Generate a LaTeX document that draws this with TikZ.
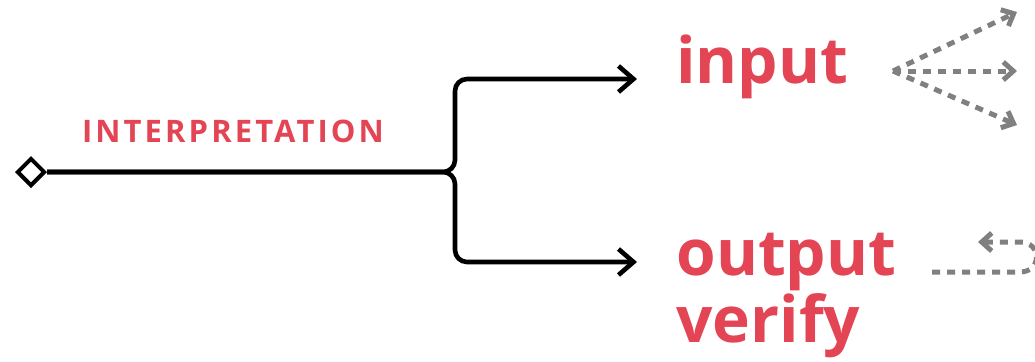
\documentclass[tikz,border=0pt]{standalone}
\usepackage{fontspec}
\setmainfont{Open Sans}
\newfontfamily\spacedfont{Open Sans}[LetterSpace=10]
\usetikzlibrary{shapes.geometric,arrows.meta}
\definecolor{labelred}{RGB}{227,69,85}
\definecolor{flowgray}{RGB}{128,128,128}

\tikzset{
  branch/.style={line width=2.3pt, rounded corners=6pt, -{Straight Barb[length=7.5pt,width=13pt]}},
  flow/.style={flowgray, line width=2.5pt, dash pattern=on 4pt off 3.5pt, -{Straight Barb[length=5pt,width=9pt]}},
  word/.style={labelred, font=\fontsize{32}{34}\selectfont\bfseries, inner sep=0pt, anchor=base west},
}

\begin{document}
\begin{tikzpicture}[x=0.5pt,y=-0.5pt]
    \clip (0,0) rectangle (1035,361);
    \node (start) [diamond, draw, line width=2pt, fill=white, inner sep=0pt, minimum size=14pt] at (31,172) {};
    \coordinate (fork) at (455,172);
    \coordinate (inTip) at (637,79);
    \coordinate (outTip) at (637,262);
    \node (interp) [labelred, font=\spacedfont\fontsize{15.5}{17}\selectfont\bfseries, anchor=base, inner sep=0pt] at (233,142) {INTERPRETATION};
    \node (input) [word] at (676,83) {input};
    \node (output) [word] at (676,275) {output};
    \node (verify) [word] at (676,342) {verify};
    \draw[branch] (start) -- (fork) |- (inTip);
    \draw[branch] (start) -- (fork) |- (outTip);
    % fan out of input
    \coordinate (fan) at (893,71);
    \coordinate (upTip) at (1017,12);
    \coordinate (midTip) at (1017,71);
    \coordinate (lowTip) at (1017,125);
    \foreach \t in {upTip,midTip,lowTip}
        \draw[flow] (fan) -- (\t);
    % loop back to output
    \coordinate (loopStart) at (932,272);
    \coordinate (loopTip) at (978,242);
    \draw[flow] (loopStart) -- (1020,272) .. controls (1042,272) and (1042,242) .. (1020,242) -- (loopTip);
\end{tikzpicture}
\end{document}
